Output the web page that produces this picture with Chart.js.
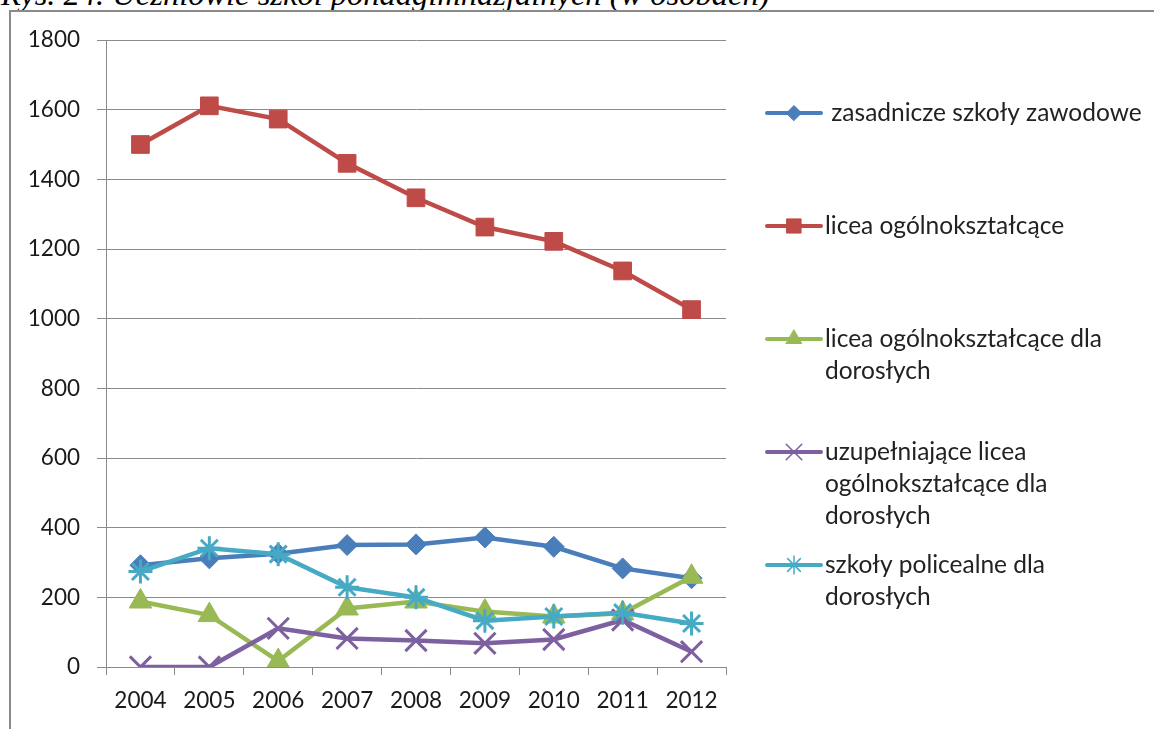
<!DOCTYPE html>
<html>
<head>
<meta charset="utf-8">
<script src="https://cdn.jsdelivr.net/npm/chart.js@4/dist/chart.umd.min.js"></script>
<style>
  html, body { margin: 0; padding: 0; background: #fff; overflow: hidden; }
  #wrap { position: relative; width: 1154px; height: 729px; overflow: hidden; background: #fff; }
  #title { position: absolute; left: 1px; top: -22px; font-family: "Liberation Serif", "Times New Roman", serif; font-style: italic; font-size: 32.5px; line-height: 32.5px; color: #000; white-space: nowrap; }
  #frame { position: absolute; left: 9px; top: 10px; width: 1200px; height: 800px; border: 2px solid #8a8a8a; box-sizing: border-box; }
  #c { position: absolute; left: 0; top: 0; }
</style>
</head>
<body>
<div id="wrap">
  <div id="title">Rys. 24. Uczniowie szkół ponadgimnazjalnych (w osobach)</div>
  <div id="frame"></div>
  <canvas id="c" width="1154" height="729"></canvas>
</div>
<script>
const years = ["2004","2005","2006","2007","2008","2009","2010","2011","2012"];
const seriesNames = [
  " zasadnicze szkoły zawodowe",
  "licea ogólnokształcące",
  "licea ogólnokształcące dla\ndorosłych",
  "uzupełniające licea\nogólnokształcące dla\ndorosłych",
  "szkoły policealne dla\ndorosłych"
];
const zasadnicze = [292, 312, 325, 350, 352, 372, 345, 283, 255];
const licea = [1500, 1611, 1573, 1446, 1347, 1263, 1222, 1137, 1026];
const liceaDorosli = [188, 149, 17, 168, 188, 159, 145, 154, 259];
const uzupelniajace = [0, 0, 111, 82, 76, 68, 79, 135, 44];
const policealne = [274, 341, 324, 229, 200, 133, 145, 156, 125];
const yTicks = [0, 200, 400, 600, 800, 1000, 1200, 1400, 1600, 1800];

const colors = ["#4A7EBB", "#BE4B48", "#98B954", "#7D60A0", "#46AAC5"];
const styles = ["rectRot", "rect", "triangle", "crossRot", "star"];
const radii = [10.5, 12.5, 13, 15, 12];
const legendRadii = [7.5, 10, 9, 11, 9];
const seriesData = [zasadnicze, licea, liceaDorosli, uzupelniajace, policealne];

const FONT = "Lato";
const AXIS = "#8a8a8a";

const sideLegend = {
  id: "sideLegend",
  afterDraw(chart) {
    const ctx = chart.ctx;
    ctx.save();
    ctx.font = "24.5px " + FONT;
    ctx.textBaseline = "middle";
    chart.data.datasets.forEach((ds, i) => {
      const lines = ds.label.split("\n");
      const y0 = 113 + i * 113;
      ctx.strokeStyle = ds.borderColor;
      ctx.lineWidth = 4;
      ctx.lineCap = "round";
      ctx.beginPath();
      ctx.moveTo(767, y0);
      ctx.lineTo(821, y0);
      ctx.stroke();
      ctx.fillStyle = ds.borderColor;
      ctx.lineWidth = (ds.pointStyle === "crossRot" || ds.pointStyle === "star") ? 1.5 : 1;
      Chart.helpers.drawPoint(ctx, { pointStyle: ds.pointStyle, radius: legendRadii[i], rotation: 0, borderWidth: 1 }, 794, y0);
      ctx.fillStyle = "#222";
      ctx.textAlign = "left";
      lines.forEach((ln, k) => ctx.fillText(ln, 825, y0 + k * 32));
    });
    ctx.restore();
  }
};

const datasets = seriesNames.map((name, i) => ({
  label: name,
  data: seriesData[i],
  borderColor: colors[i],
  backgroundColor: colors[i],
  pointBackgroundColor: colors[i],
  pointBorderColor: colors[i],
  pointStyle: styles[i],
  pointRadius: radii[i],
  pointBorderWidth: (styles[i] === "crossRot" || styles[i] === "star") ? 3 : 1,
  borderWidth: 4.5,
  tension: 0,
  fill: false,
  order: 5 - i
}));

new Chart(document.getElementById("c"), {
  type: "line",
  data: { labels: years, datasets },
  plugins: [sideLegend],
  options: {
    responsive: false,
    devicePixelRatio: 1,
    animation: false,
    events: [],
    layout: { padding: { left: 0, right: 428, top: 40, bottom: 0 } },
    plugins: { legend: { display: false }, tooltip: { enabled: false }, title: { display: false } },
    scales: {
      x: {
        type: "category",
        offset: true,
        grid: { offset: true, drawOnChartArea: false, drawTicks: true, tickLength: 8, color: AXIS, lineWidth: 1 },
        border: { color: AXIS, width: 1 },
        ticks: { color: "#1a1a1a", font: { family: FONT, size: 22.5 }, padding: 12, maxRotation: 0 },
        afterFit(s) { s.height = 62; }
      },
      y: {
        min: 0, max: 1800,
        afterBuildTicks(s) { s.ticks = yTicks.map(v => ({ value: v })); },
        grid: { color: AXIS, lineWidth: 1, tickLength: 9 },
        border: { color: AXIS, width: 1 },
        ticks: { color: "#1a1a1a", font: { family: FONT, size: 22.5 }, padding: 17, callback: v => String(v) },
        afterFit(s) { s.width = 106; }
      }
    }
  }
});
</script>
</body>
</html>
